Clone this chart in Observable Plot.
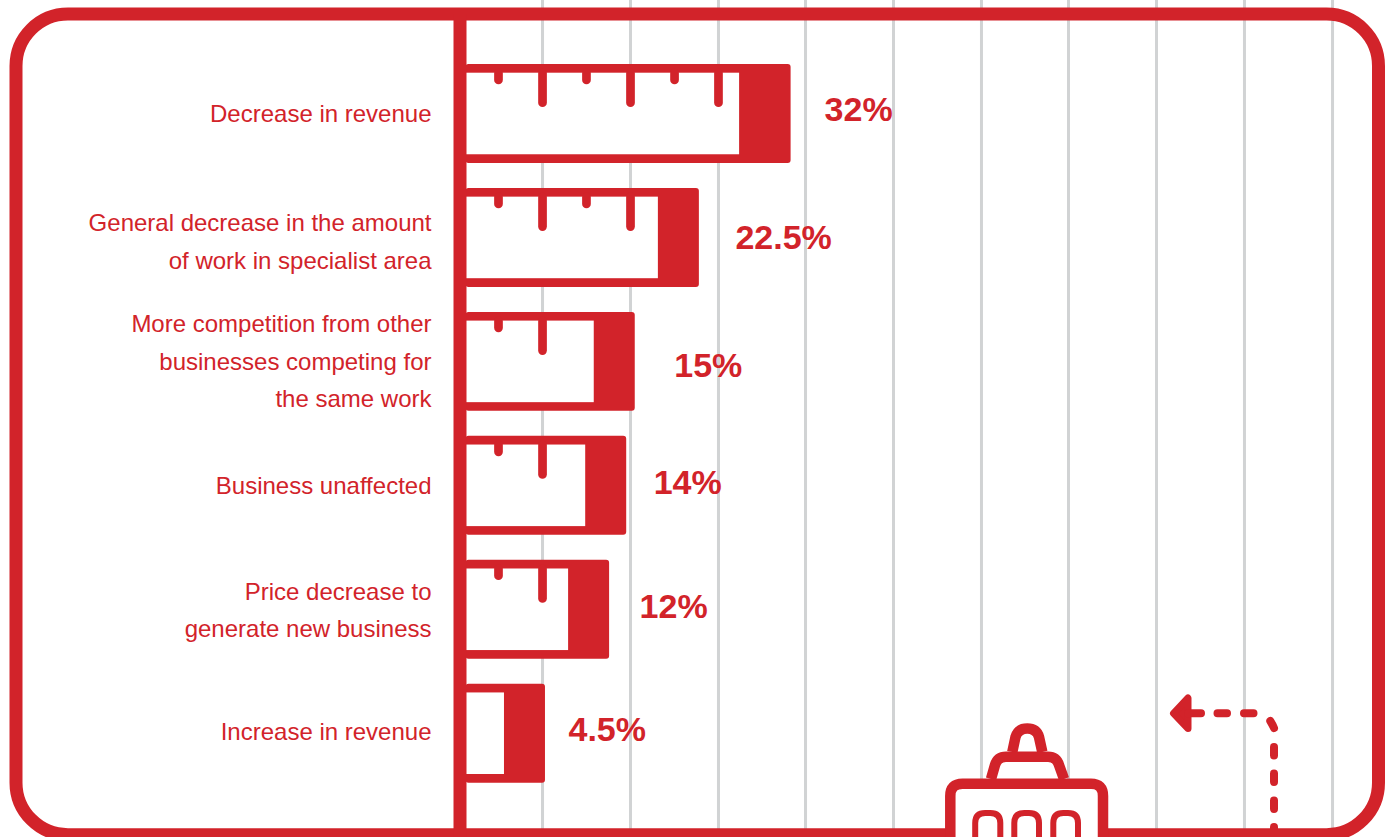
<!DOCTYPE html>
<html lang="en">
<head>
<meta charset="utf-8">
<title>Impact on business</title>
<style>
  html, body { margin: 0; padding: 0; background: #fff; overflow: hidden; }
  svg { display: block; }
</style>
<script src="https://cdn.jsdelivr.net/npm/d3@7"></script>
<script src="https://cdn.jsdelivr.net/npm/@observablehq/plot@0.6"></script>
</head>
<body>
<script>
// Survey responses, in display order
const categories = [
  "Decrease in revenue",
  "General decrease in the amount\nof work in specialist area",
  "More competition from other\nbusinesses competing for\nthe same work",
  "Business unaffected",
  "Price decrease to\ngenerate new business",
  "Increase in revenue"
];
const values = [32, 22.5, 15, 14, 12, 4.5];
const valueLabels = ["32%", "22.5%", "15%", "14%", "12%", "4.5%"];

// Ruler notches printed inside each bar, on the same percent scale
const shortNotches = [3.8, 14.09, 24.39];
const longNotches = [8.95, 19.24, 29.53];
const shortNotchCounts = [3, 2, 1, 1, 1, 0];
const longNotchCounts = [3, 2, 1, 1, 1, 0];

// Background rules on the percent scale
const gridValues = [8.95, 19.24, 29.53, 39.71, 50, 60.29, 70.47, 80.76, 91.05, 101.35];

const rows = categories.map((category, i) => ({category, value: values[i], text: valueLabels[i]}));
const notches = (list, counts) =>
  categories.flatMap((category, i) => list.slice(0, counts[i]).map((x) => ({category, x})));

const red = "#d2232a";
const grey = "#d1d3d4";

// Hand placement of the text beside each bar
const categoryNudge = [-4, 0, -4, -4, -3, -6];
const valueNudge = [[85, -3.5], [77, 0], [80, 4.5], [68, -2.5], [71, -2.5], [64, -3.5]];

const categoryMarks = rows.map((row, i) =>
  Plot.text([row], {
    x: () => 0, y: "category", text: "category",
    dx: -34.5, dy: categoryNudge[i],
    textAnchor: "end", lineAnchor: "middle", lineHeight: 1.56,
    fontSize: 24, fill: red
  })
);
const valueMarks = rows.map((row, i) =>
  Plot.text([row], {
    x: "value", y: "category", text: "text",
    dx: valueNudge[i][0], dy: valueNudge[i][1],
    textAnchor: "start", lineAnchor: "middle",
    fontSize: 34, fontWeight: "bold", fill: red
  })
);

// Building and dashed arrow illustration in the lower right corner
function illustration() {
  const g = d3.create("svg:g").attr("fill", "none").attr("stroke", red).attr("stroke-linejoin", "round");
  g.append("path")
    .attr("d", "M1012.3 752L1015.5 737Q1018 728.6 1027.3 728.6Q1036.5 728.6 1039 737L1042.3 752")
    .attr("stroke-width", 10.5);
  g.append("path")
    .attr("d", "M991 779L995 765Q997.5 756.7 1006 756.7H1048Q1056.5 756.7 1059 765L1064 779")
    .attr("stroke-width", 10.5);
  g.append("path")
    .attr("d", "M950.3 845V796Q950.3 783.7 962.5 783.7H1091Q1103 783.7 1103 796V845")
    .attr("stroke-width", 10.5).attr("fill", "#fff");
  for (const [l, r] of [[975.2, 1000.3], [1014.3, 1039], [1053.3, 1078]]) {
    g.append("path")
      .attr("d", `M${l} 845V823Q${l} 813 ${l + 10} 813H${r - 10}Q${r} 813 ${r} 823V845`)
      .attr("stroke-width", 6);
  }
  g.append("path")
    .attr("d", "M1173.5 713.3L1188 698V728.6Z")
    .attr("fill", red).attr("stroke-width", 7);
  g.append("path")
    .attr("d", "M1188 713.3H1201M1217.5 713.3H1227M1244 713.3H1253.5M1270.3 721Q1272.5 724.5 1274 728M1274 747V755.5M1274 773.5V782M1274 800.5V809M1274 827V840")
    .attr("stroke-width", 8).attr("stroke-linecap", "round");
  return g.node();
}

const chart = Plot.plot({
  width: 1391,
  height: 837,
  marginLeft: 465.5,
  marginRight: 70.5,
  marginTop: 64,
  marginBottom: 54.3,
  style: {fontFamily: "'Liberation Sans', Arial, sans-serif", background: "#fff"},
  x: {domain: [0, 100], axis: null},
  y: {domain: categories, axis: null, paddingInner: 0.2016, paddingOuter: 0, round: false},
  marks: [
    Plot.ruleX(gridValues, {x: (d) => d, stroke: grey, strokeWidth: 3, insetTop: -64, insetBottom: -54.3}),
    Plot.frame({
      stroke: red, strokeWidth: 13, rx: 52, fill: "none",
      insetLeft: -450, insetRight: -57.5, insetTop: -50.5, insetBottom: -51.5
    }),
    // Solid cap past the value end; the longest bar carries a wider one
    Plot.barX(rows.slice(0, 1), {x: "value", y: "category", fill: red, insetRight: -51.5, rx: 3}),
    Plot.barX(rows.slice(1), {x: "value", y: "category", fill: red, insetRight: -41, rx: 3}),
    // Open bar body showing the value
    Plot.barX(rows, {x: "value", y: "category", fill: "#fff", insetTop: 8.7, insetBottom: 8.7}),
    Plot.ruleX(notches(shortNotches, shortNotchCounts), {
      x: "x", y1: "category", y2: "category", stroke: red, strokeWidth: 8.7, strokeLinecap: "round",
      insetTop: 9, insetBottom: 83
    }),
    Plot.ruleX(notches(longNotches, longNotchCounts), {
      x: "x", y1: "category", y2: "category", stroke: red, strokeWidth: 8.7, strokeLinecap: "round",
      insetTop: 9, insetBottom: 60.3
    }),
    // Vertical baseline sits just left of zero
    Plot.ruleX([0], {stroke: red, strokeWidth: 13, dx: -6, insetTop: -50, insetBottom: -54.3}),
    ...categoryMarks,
    ...valueMarks,
    illustration
  ]
});
document.body.append(chart);
</script>
</body>
</html>
